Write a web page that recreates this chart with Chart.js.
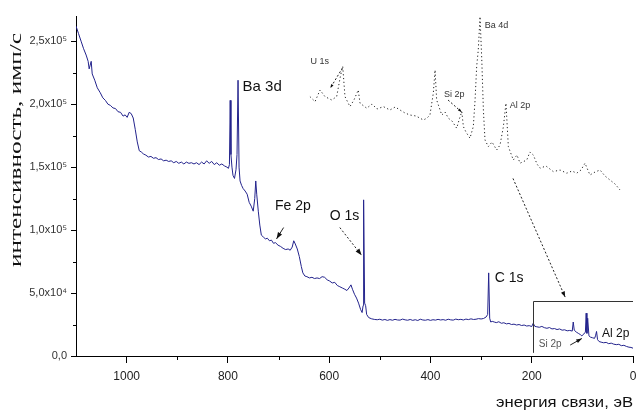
<!DOCTYPE html>
<html>
<head>
<meta charset="utf-8">
<script src="https://cdn.jsdelivr.net/npm/chart.js@4.4.1/dist/chart.umd.min.js"></script>
<style>
  html, body { margin: 0; padding: 0; background: #fff; }
  canvas { display: block; }
</style>
</head>
<body>
<canvas id="spectrum" width="636" height="413"></canvas>
<script>
// survey spectrum: binding energy (eV) and intensity (counts/s)
const bindingEnergy = [
  1100, 1095, 1090, 1085, 1080, 1076, 1074, 1072, 1070, 1068,
  1063, 1058, 1052, 1047, 1042, 1037, 1032, 1027, 1022, 1017,
  1012, 1007, 1003, 999, 995, 991, 987, 983, 979, 975,
  971, 967, 962, 957, 952, 947, 942, 937, 932, 927,
  922, 917, 912, 907, 902, 897, 892, 887, 882, 877,
  872, 867, 862, 857, 852, 847, 842, 837, 832, 827,
  822, 817, 812, 807, 802, 799, 797, 795.5, 794, 792,
  790, 787, 784, 782, 780, 778, 776, 773, 770, 766,
  762, 758, 754, 750, 747, 745, 743, 740, 737, 734,
  730, 726, 722, 718, 714, 710, 706, 701, 696, 691,
  686, 681, 677, 673, 670, 667, 663, 659, 655, 652,
  648, 644, 639, 634, 629, 624, 619, 614, 609, 604,
  599, 594, 589, 584, 579, 574, 569, 565, 561, 557,
  554, 550, 546, 542, 538, 535, 533, 532, 530, 528,
  526, 522, 516, 510, 505, 500, 495, 490, 485, 480,
  475, 470, 465, 460, 455, 450, 445, 440, 435, 430,
  425, 420, 415, 410, 405, 400, 395, 390, 385, 380,
  375, 370, 365, 360, 355, 350, 345, 340, 335, 330,
  325, 320, 315, 310, 305, 300, 295, 290, 287, 285,
  283, 281, 278, 274, 270, 265, 260, 255, 250, 245,
  240, 235, 230, 225, 220, 215, 210, 205, 200, 197,
  194, 190, 185, 180, 175, 170, 165, 160, 155, 150,
  145, 140, 135, 130, 125, 120, 118, 116, 112, 108,
  104, 101, 97, 94, 92.5, 91, 89.5, 87, 84, 80,
  76, 74, 72, 70, 67, 63, 58, 53, 48, 43,
  38, 33, 28, 23, 18, 13, 8, 4, 0
]
const intensity = [
  262000, 256000, 250000, 244000, 239000, 234000, 228000, 231000, 234000, 224000,
  219000, 213000, 209000, 205000, 203000, 200000, 199000, 197000, 196500, 194000,
  193500, 190500, 191500, 189500, 193500, 192500, 189000, 180000, 170000, 163000,
  162000, 160500, 159500, 158000, 158500, 157000, 157500, 156000, 156500, 155000,
  155500, 154500, 155000, 153500, 154500, 153000, 154000, 152500, 154000, 153000,
  153500, 152500, 153500, 152000, 154000, 152500, 155000, 153000, 154500, 152000,
  153500, 151500, 152500, 151000, 150000, 149000, 152000, 203000, 160000, 150000,
  143500, 141000, 148000, 160000, 219000, 150000, 139000, 135500, 133000, 131000,
  128500, 122000, 119000, 115000, 125000, 139000, 128000, 115000, 104000, 96000,
  94500, 93000, 93500, 91500, 92000, 89500, 90000, 88000, 87000, 85500,
  84500, 85000, 84000, 86500, 91500, 89000, 85000, 79000, 71000, 66000,
  63500, 63000, 62000, 62500, 61500, 62000, 61500, 63000, 62500, 60500,
  59500, 58000, 58500, 56000, 55000, 54000, 53000, 52000, 54000, 56500,
  53000, 49000, 46000, 42000, 37000, 34500, 40000, 124000, 42000, 40000,
  33000, 30500, 29500, 29000, 28800, 29200, 28500, 29000, 28300, 28900,
  28400, 29100, 28600, 28500, 29300, 28700, 28400, 29000, 28300, 28800,
  28200, 29200, 28600, 28400, 28900, 28300, 28800, 28500, 29100, 28600,
  28900, 28400, 29200, 28700, 28500, 29300, 28800, 29100, 28600, 29300,
  28900, 29500, 29000, 29200, 29700, 29400, 29800, 31000, 33000, 66000,
  30000, 27000, 27500, 27000, 26500, 27200, 26000, 26400, 25500, 25900,
  25000, 25300, 24600, 25000, 24200, 24600, 23800, 24100, 23400, 26000,
  23600, 23200, 22800, 23500, 22500, 22000, 22600, 21500, 21800, 21000,
  21500, 20500, 20800, 20000, 20300, 19800, 27000, 20500, 19000, 18000,
  17000, 16000, 17500, 19000, 34000, 18000, 30000, 16000, 15000, 14500,
  14000, 16000, 19500, 13000, 11500, 11000, 10500, 10800, 9800, 10200,
  9400, 9000, 9300, 8200, 8500, 7600, 7000, 6800, 6200
]

// inset: enlarged 0-200 eV region (own scale, x10^3 counts/s)
const insetEnergy = [
  196.3, 193.1, 190, 186.9, 182.7, 179.6, 177.1, 175.8, 174.4, 171.3,
  168.8, 166.1, 165, 160.8, 157.5, 154.4, 150.4, 146.3, 143, 140,
  136.9, 133.8, 130, 125.4, 123.1, 121.3, 119.2, 118.1, 117.1, 113.9,
  111.9, 109.8, 107.5, 104.6, 103.1, 101.4, 100.4, 98.8, 96.3, 94.2,
  93.1, 92.1, 91.1, 90, 88.9, 87.9, 86.9, 84.8, 82.5, 79.6,
  77.5, 75.4, 73.8, 72.3, 69.2, 66.9, 65, 60.8, 58.8, 56.7,
  54.4, 52.5, 48.8, 44.2, 40, 35.8, 32.5, 29.6, 26.9, 24.4,
  21.3, 18.1, 15, 11.9, 8.8, 5.6, 2.5
]
const insetIntensity = [
  69.7, 67.2, 73, 69.7, 68, 69.7, 80.5, 84.7, 69.7, 64.7,
  68, 73, 66.4, 63.9, 66, 63.5, 64.7, 63, 64.5, 63,
  61.5, 60.5, 60, 58, 59, 60.5, 71.4, 83, 68, 60.5,
  62, 58.9, 57.5, 53.9, 58, 62.2, 54.7, 52, 48.9, 54.7,
  68, 84.7, 93, 109.7, 88, 63, 48, 44.7, 47, 43,
  45.5, 54.7, 66.4, 44.7, 38, 40.5, 36.4, 38, 42, 40.5,
  36, 33.9, 35, 32.2, 33, 31.4, 32.5, 31.4, 33, 36.4,
  30.5, 32, 33, 30, 28, 26, 23
]

const xTicks = [1000, 800, 600, 400, 200, 0]
const xMinorTicks = [900, 700, 500, 300, 100]
const yTicks = [0, 50000, 100000, 150000, 200000, 250000]
const yTickLabels = ['0,0', '5,0x10\u2074', '1,0x10\u2075', '1,5x10\u2075', '2,0x10\u2075', '2,5x10\u2075']
const yMinorTicks = [25000, 75000, 125000, 175000, 225000]

const yTitle = 'интенсивность, имп/с'
const xTitle = 'энергия связи, эВ'

// peak labels on the survey (eV, counts)
const peakLabels = [
  { text: 'Ba 3d', e: 771, v: 214000, size: 15 },
  { text: 'Fe 2p', e: 707, v: 119000, size: 14 },
  { text: 'O 1s', e: 599, v: 111000, size: 14 },
  { text: 'C 1s', e: 273, v: 62000, size: 14 },
  { text: 'Al 2p', e: 61, v: 17500, size: 12 },
  { text: 'Si 2p', e: 186, v: 9300, size: 10, color: '#555' }
]
// labels on the inset (eV, inset units)
const insetLabels = [
  { text: 'U 1s', e: 196, v: 87, size: 9 },
  { text: 'Si 2p', e: 112.5, v: 70.5, size: 9 },
  { text: 'Ba 4d', e: 87, v: 105, size: 9 },
  { text: 'Al 2p', e: 71.5, v: 65, size: 9 }
]

const FONT = '"Liberation Sans", Arial, sans-serif'

function arrow (ctx, x1, y1, x2, y2, dashed, head) {
  ctx.save()
  ctx.strokeStyle = '#222'
  ctx.fillStyle = '#111'
  ctx.lineWidth = 1
  if (dashed) ctx.setLineDash([2, 2])
  ctx.beginPath()
  ctx.moveTo(x1, y1)
  ctx.lineTo(x2, y2)
  ctx.stroke()
  ctx.setLineDash([])
  const a = Math.atan2(y2 - y1, x2 - x1)
  ctx.beginPath()
  ctx.moveTo(x2, y2)
  ctx.lineTo(x2 - head * Math.cos(a - 0.35), y2 - head * Math.sin(a - 0.35))
  ctx.lineTo(x2 - head * Math.cos(a + 0.35), y2 - head * Math.sin(a + 0.35))
  ctx.closePath()
  ctx.fill()
  ctx.restore()
}

const decor = {
  id: 'decor',
  afterDraw (chart) {
    const { ctx, chartArea } = chart
    const x = chart.scales.x
    const y = chart.scales.y
    const xi = chart.scales.xi
    const yi = chart.scales.yi

    // minor ticks
    ctx.save()
    ctx.strokeStyle = '#000'
    ctx.lineWidth = 1
    ctx.beginPath()
    xMinorTicks.forEach(v => {
      const p = Math.round(x.getPixelForValue(v)) + 0.5
      ctx.moveTo(p, chartArea.bottom)
      ctx.lineTo(p, chartArea.bottom + 4)
    })
    yMinorTicks.forEach(v => {
      const p = Math.round(y.getPixelForValue(v)) + 0.5
      ctx.moveTo(chartArea.left - 3, p)
      ctx.lineTo(chartArea.left, p)
    })
    ctx.stroke()
    ctx.restore()

    // peak labels
    ctx.save()
    ctx.textBaseline = 'middle'
    ctx.textAlign = 'left'
    peakLabels.forEach(l => {
      ctx.font = l.size + 'px ' + FONT
      ctx.fillStyle = l.color || '#111'
      ctx.fillText(l.text, x.getPixelForValue(l.e), y.getPixelForValue(l.v))
    })
    insetLabels.forEach(l => {
      ctx.font = l.size + 'px ' + FONT
      ctx.fillStyle = '#333'
      ctx.fillText(l.text, xi.getPixelForValue(l.e), yi.getPixelForValue(l.v))
    })
    ctx.restore()

    // arrows
    const P = (e, v) => [x.getPixelForValue(e), y.getPixelForValue(v)]
    const Q = (e, v) => [xi.getPixelForValue(e), yi.getPixelForValue(v)]
    arrow(ctx, ...P(690, 102000), ...P(704, 93000), false, 7)
    arrow(ctx, ...P(579, 102000), ...P(536, 80000), true, 7)
    arrow(ctx, ...P(124, 8700), ...P(101, 13900), false, 6)
    arrow(ctx, ...P(237, 141000), ...P(134, 46800), true, 6)
    arrow(ctx, ...Q(176, 84), ...Q(183.5, 74), true, 4)
    arrow(ctx, ...Q(110, 68), ...Q(101.5, 62), true, 4)

    // zoom box around 0-200 eV
    ctx.save()
    ctx.strokeStyle = '#333'
    ctx.lineWidth = 1
    ctx.beginPath()
    const bx = Math.round(x.getPixelForValue(198)) + 0.5
    const by = Math.round(y.getPixelForValue(43600)) + 0.5
    ctx.moveTo(bx, y.getPixelForValue(2500))
    ctx.lineTo(bx, by)
    ctx.lineTo(x.getPixelForValue(0), by)
    ctx.stroke()
    ctx.restore()

    // axis titles
    ctx.save()
    ctx.fillStyle = '#111'
    ctx.font = '17px "Liberation Serif", "Times New Roman", serif'
    ctx.textAlign = 'center'
    ctx.textBaseline = 'middle'
    let w = ctx.measureText(yTitle).width
    ctx.translate(17, 150)
    ctx.rotate(-Math.PI / 2)
    ctx.scale(234 / w, 1)
    ctx.fillText(yTitle, 0, 0)
    ctx.restore()

    ctx.save()
    ctx.fillStyle = '#111'
    ctx.font = '15px ' + FONT
    ctx.textAlign = 'right'
    ctx.textBaseline = 'alphabetic'
    w = ctx.measureText(xTitle).width
    ctx.translate(633, 407)
    ctx.scale(137 / w, 1)
    ctx.fillText(xTitle, 0, 0)
    ctx.restore()
  }
}

new Chart(document.getElementById('spectrum'), {
  type: 'line',
  data: {
    datasets: [
      {
        data: bindingEnergy.map((e, i) => ({ x: e, y: intensity[i] })),
        borderColor: '#23238c',
        borderWidth: 1,
        pointRadius: 0,
        tension: 0,
        xAxisID: 'x',
        yAxisID: 'y'
      },
      {
        data: insetEnergy.map((e, i) => ({ x: e, y: insetIntensity[i] })),
        borderColor: '#222',
        borderWidth: 1,
        borderDash: [1.2, 2.6],
        pointRadius: 0,
        tension: 0,
        xAxisID: 'xi',
        yAxisID: 'yi'
      }
    ]
  },
  options: {
    responsive: false,
    animation: false,
    events: [],
    layout: { padding: { top: 16, right: 3, left: 0, bottom: 0 } },
    plugins: { legend: { display: false }, tooltip: { enabled: false } },
    scales: {
      x: {
        type: 'linear',
        position: 'bottom',
        reverse: true,
        min: 0,
        max: 1100,
        afterBuildTicks: s => { s.ticks = xTicks.map(v => ({ value: v })) },
        afterFit: s => { s.height = 57; s.paddingLeft = 0; s.paddingRight = 0 },
        ticks: {
          font: { family: FONT, size: 12 },
          color: '#222',
          padding: 6,
          maxRotation: 0,
          autoSkip: false,
          callback: v => String(v)
        },
        grid: { drawOnChartArea: false, tickLength: 7, color: '#000' },
        border: { color: '#000', width: 1 }
      },
      y: {
        type: 'linear',
        position: 'left',
        min: 0,
        max: 270000,
        afterBuildTicks: s => { s.ticks = yTicks.map(v => ({ value: v })) },
        afterFit: s => { s.width = 76; s.paddingTop = 0; s.paddingBottom = 0 },
        ticks: {
          font: { family: FONT, size: 11 },
          color: '#333',
          padding: 4,
          callback: v => yTickLabels[yTicks.indexOf(v)]
        },
        grid: { drawOnChartArea: false, tickLength: 5, color: '#000' },
        border: { color: '#000', width: 1 }
      },
      xi: { type: 'linear', display: false, reverse: true, min: -5.6, max: 342.5 },
      yi: { type: 'linear', display: false, min: -60, max: 110 }
    }
  },
  plugins: [decor]
})
</script>
</body>
</html>
